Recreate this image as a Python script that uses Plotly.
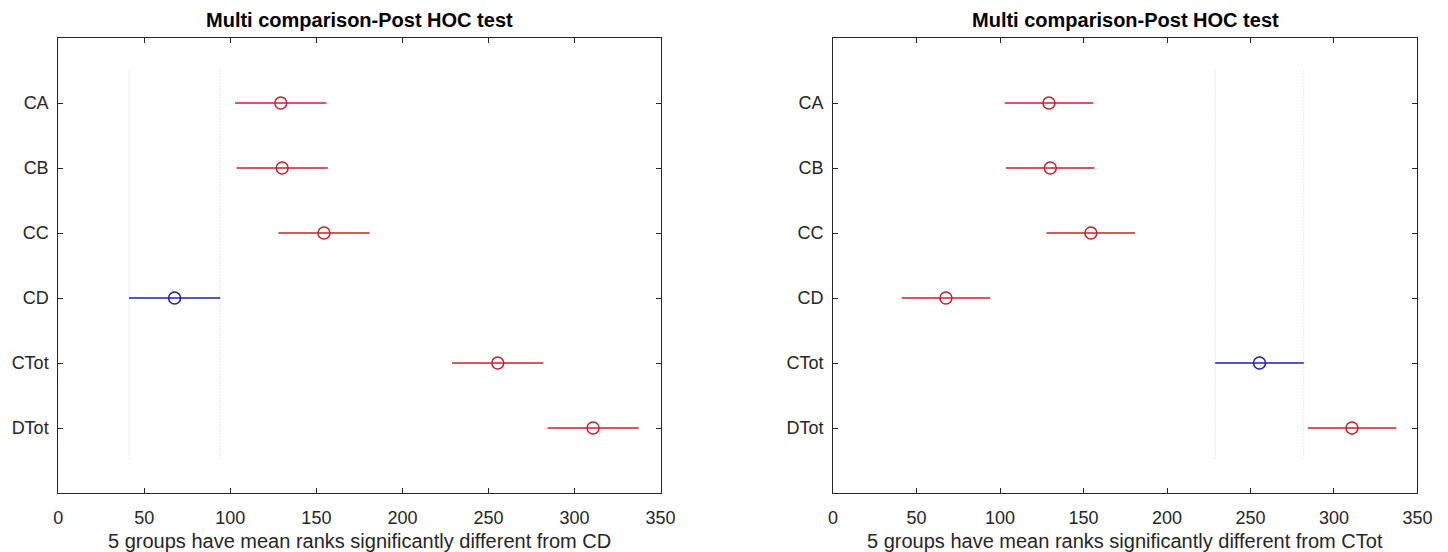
import plotly.graph_objects as go

groups = ["CA", "CB", "CC", "CD", "CTot", "DTot"]
mean_ranks = [129.3, 130.1, 154.4, 67.6, 255.4, 310.8]
half_width = [26.5, 26.5, 26.5, 26.5, 26.5, 26.5]
reference_groups = ["CD", "CTot"]
x_ticks = [0, 50, 100, 150, 200, 250, 300, 350]
title_text = "Multi comparison-Post HOC test"
xlabels = ["5 groups have mean ranks significantly different from CD",
           "5 groups have mean ranks significantly different from CTot"]

RED = "rgb(200,32,42)"
BLUE = "rgb(30,30,165)"
AXC = "#262626"
FONT = "Liberation Sans, Arial, sans-serif"


def fx(px):
    # horizontal pixel -> paper fraction (compensates observed render width)
    return (px - 2.6) / 1432.0


fig = go.Figure()

xdomains = [[fx(56), fx(660)], [fx(833), fx(1419)]]
ydomain = [1 - 493 / 552, 1 - 38 / 552]
ypos = list(range(1, len(groups) + 1))

for p, ref in enumerate(reference_groups):
    xa = "x" if p == 0 else "x2"
    ya = "y" if p == 0 else "y2"
    ri = groups.index(ref)
    lo_ref = mean_ranks[ri] - half_width[ri]
    hi_ref = mean_ranks[ri] + half_width[ri]
    for xv in (lo_ref, hi_ref):
        fig.add_trace(go.Scatter(x=[xv, xv], y=[0.5, len(groups) + 0.5], mode="lines",
                                 line=dict(color="rgb(205,205,205)", width=1, dash="1px,2px"),
                                 xaxis=xa, yaxis=ya, showlegend=False, hoverinfo="skip"))
    for i, g in enumerate(groups):
        col = BLUE if g == ref else RED
        lo = mean_ranks[i] - half_width[i]
        hi = mean_ranks[i] + half_width[i]
        fig.add_trace(go.Scatter(x=[lo, hi], y=[ypos[i], ypos[i]], mode="lines",
                                 line=dict(color=col, width=1.5),
                                 xaxis=xa, yaxis=ya, showlegend=False))
        fig.add_trace(go.Scatter(x=[mean_ranks[i]], y=[ypos[i]], mode="markers",
                                 marker=dict(symbol="circle-open", size=12, color=col,
                                             line=dict(width=1.5, color=col)),
                                 xaxis=xa, yaxis=ya, showlegend=False))

axis_common = dict(showline=True, linecolor=AXC, linewidth=1, mirror="ticks",
                   ticks="inside", ticklen=5, tickcolor=AXC, showgrid=False,
                   zeroline=False, tickfont=dict(family=FONT, size=18, color=AXC))

for p in range(2):
    sx = "" if p == 0 else "2"
    fig.update_layout(**{
        "xaxis" + sx: dict(domain=xdomains[p], range=[0, 350], tickvals=x_ticks,
                           anchor="y" + sx, ticklabelstandoff=8, **axis_common),
        "yaxis" + sx: dict(domain=ydomain, range=[len(groups) + 1, 0], tickvals=ypos,
                           ticktext=groups, anchor="x" + sx, ticklabelstandoff=5,
                           **axis_common),
    })
    cx = (xdomains[p][0] + xdomains[p][1]) / 2
    fig.add_annotation(text="<b>" + title_text + "</b>", x=cx, y=1 - 20 / 552,
                       xref="paper", yref="paper", showarrow=False,
                       xanchor="center", yanchor="middle",
                       font=dict(family=FONT, size=20, color="black"))
    fig.add_annotation(text=xlabels[p], x=cx, y=1 - 541 / 552,
                       xref="paper", yref="paper", showarrow=False,
                       xanchor="center", yanchor="middle",
                       font=dict(family=FONT, size=20, color=AXC))

fig.update_layout(width=1448, height=552, margin=dict(l=0, r=0, t=0, b=0),
                  paper_bgcolor="white", plot_bgcolor="white",
                  font=dict(family=FONT))

fig.write_html("out.html")
